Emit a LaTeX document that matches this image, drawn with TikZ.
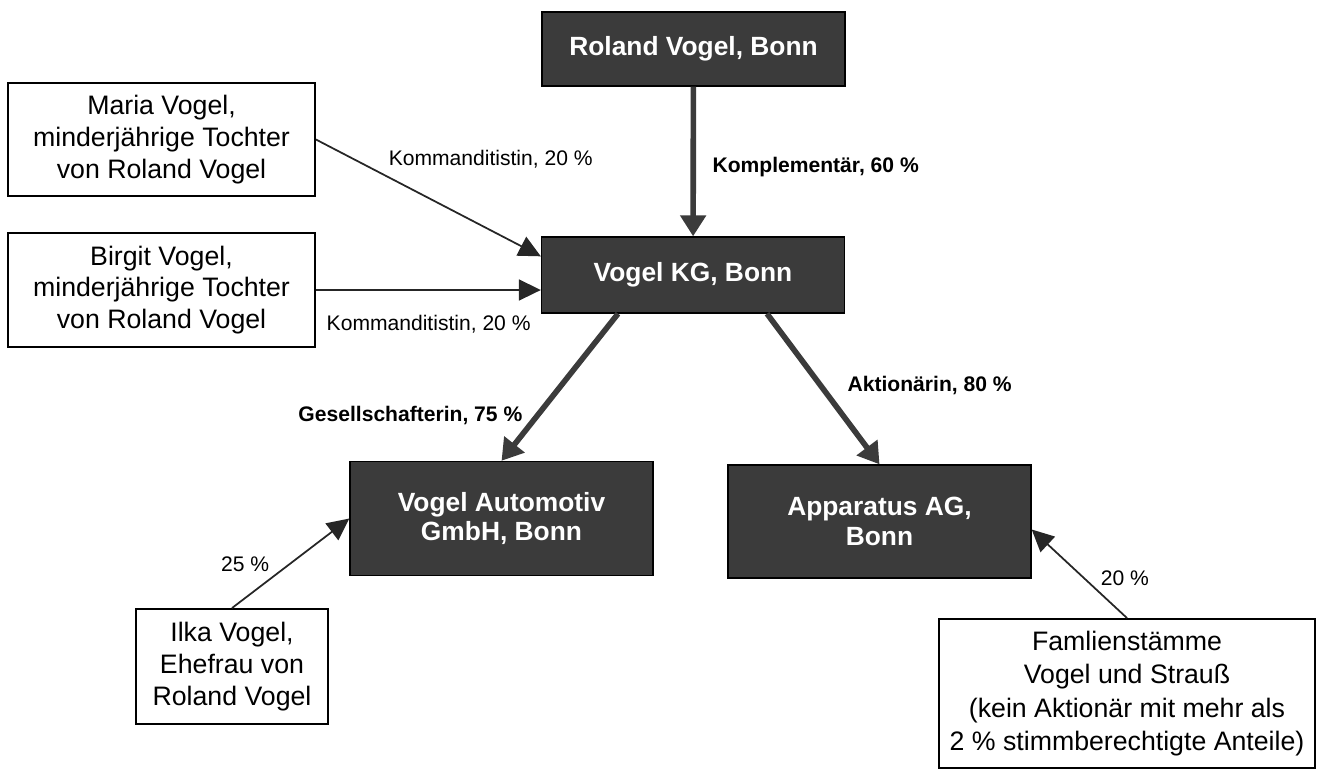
\documentclass[tikz,border=0pt]{standalone}
\usepackage{fontspec}
\setmainfont{Liberation Sans}
\usepackage{tikz}
\usetikzlibrary{arrows.meta}

\definecolor{boxgray}{HTML}{3B3B3B}

\begin{document}
\begin{tikzpicture}[
    x=0.02cm, y=-0.02cm,
    firma/.style={rectangle, draw=black, line width=0.8pt, fill=boxgray, text=white, font=\fontsize{15}{17}\selectfont\bfseries, align=center, minimum width=6.06cm},
    person/.style={rectangle, draw=black, line width=1.1pt, fill=white, font=\fontsize{15.2}{18}\selectfont, align=center, inner sep=0pt},
    beteiligung/.style={-{Triangle[length=0.42cm, width=0.5cm]}, line width=3.2pt, draw=boxgray},
    anteil/.style={-{Triangle[length=0.44cm, width=0.42cm]}, line width=1pt, draw=black!85},
    lbl/.style={font=\fontsize{12}{14}\selectfont, inner sep=0pt},
    lblfett/.style={lbl, font=\fontsize{12}{14}\selectfont\bfseries}
]
\useasboundingbox (0,0) rectangle (1318,769);

% Gesellschaften
\node[firma, minimum height=1.48cm] (roland) at (693.5,49) {Roland Vogel, Bonn};
\node[firma, minimum height=1.52cm] (kg) at (693,275) {Vogel KG, Bonn};
\node[firma, minimum height=2.28cm] (gmbh) at (501.5,518.5) {Vogel Automotiv\\GmbH, Bonn};
\node[firma, minimum height=2.26cm] (ag) at (879.5,521.5) {Apparatus AG,\\Bonn};

% Personen
\node[person, minimum width=6.14cm, minimum height=2.26cm] (maria) at (161.5,139.5) {Maria Vogel,\\minderjährige Tochter\\von Roland Vogel};
\node[person, minimum width=6.14cm, minimum height=2.28cm] (birgit) at (161.5,290) {Birgit Vogel,\\minderjährige Tochter\\von Roland Vogel};
\node[person, minimum width=3.84cm, minimum height=2.3cm] (ilka) at (232,666.5) {Ilka Vogel,\\Ehefrau von\\Roland Vogel};
\node[person, minimum width=7.52cm, minimum height=2.98cm, font=\fontsize{15.2}{19}\selectfont] (stamm) at (1127,693.5) {Famlienstämme\\Vogel und Strauß\\(kein Aktionär mit mehr als\\2 \% stimmberechtigte Anteile)};

% Beteiligungen an der KG
\draw[beteiligung] (roland) -- node[lblfett, pos=.54, anchor=west, xshift=0.33cm] {Komplementär, 60 \%} (kg);
\draw[anteil] (maria.east) -- node[lbl, pos=.32, anchor=west, yshift=0.36cm] {Kommanditistin, 20 \%} (kg.173);
\draw[anteil] (birgit.east) -- node[lbl, pos=.044, anchor=west, yshift=-0.68cm] {Kommanditistin, 20 \%} (birgit.east -| kg.west);

% Beteiligungen der KG
\draw[beteiligung] ([xshift=-1.5cm]kg.south) -- node[lblfett, pos=.69, anchor=east, xshift=-0.25cm] {Gesellschafterin, 75 \%} (gmbh.north);
\draw[beteiligung] ([xshift=1.48cm]kg.south) -- node[lblfett, pos=.474, anchor=west, xshift=0.49cm] {Aktionärin, 80 \%} (ag.north);

% Minderheiten
\draw[anteil] (ilka.north) -- node[lbl, pos=.486, anchor=east, xshift=-0.38cm] {25 \%} (gmbh.west);
\draw[anteil] (stamm.north) -- node[lbl, pos=.451, anchor=west, xshift=0.32cm] {20 \%} (ag.-3);

\end{tikzpicture}
\end{document}
